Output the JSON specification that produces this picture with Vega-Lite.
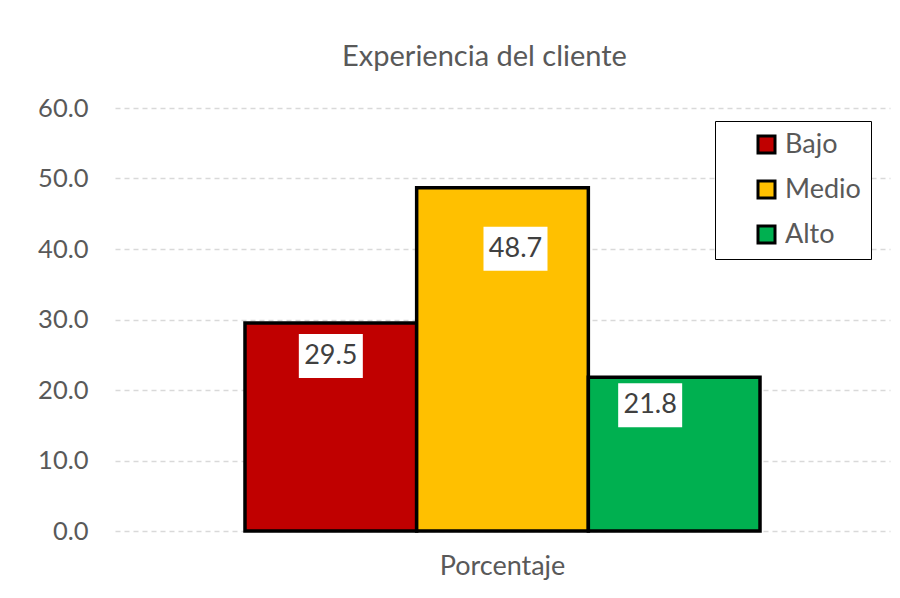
{
  "$schema": "https://vega.github.io/schema/vega-lite/v6.json",
  "width": 775,
  "height": 423,
  "autosize": {"type": "none"},
  "padding": {"left": 115, "top": 108, "right": 10, "bottom": 67},
  "background": "white",
  "config": {"view": {"stroke": null}, "font": "Lato"},
  "title": {"text": "Experiencia del cliente", "fontSize": 29, "fontWeight": "normal", "color": "#595959", "anchor": "middle", "dx": -18, "offset": 24},
  "data": {"values": [
    {"grupo": "Porcentaje", "nivel": "Bajo", "valor": 29.5},
    {"grupo": "Porcentaje", "nivel": "Medio", "valor": 48.7},
    {"grupo": "Porcentaje", "nivel": "Alto", "valor": 21.8}
  ]},
  "encoding": {
    "x": {"field": "grupo", "type": "nominal", "scale": {"paddingInner": 0, "paddingOuter": 0.2524},
      "axis": {"title": null, "domain": false, "ticks": false, "labelAngle": 0, "labelFontSize": 27, "labelColor": "#595959", "labelPadding": 22}},
    "xOffset": {"field": "nivel", "type": "nominal", "sort": ["Bajo", "Medio", "Alto"], "scale": {"paddingInner": 0, "paddingOuter": 0}},
    "y": {"field": "valor", "type": "quantitative", "scale": {"domain": [0, 60]},
      "axis": {"title": null, "values": [0, 10, 20, 30, 40, 50, 60], "format": ".1f", "domain": false, "ticks": false, "labelFontSize": 25.5, "labelColor": "#595959", "labelPadding": 27, "gridColor": "#d9d9d9", "gridDash": [5, 4], "gridWidth": 1.3}}
  },
  "layer": [
    {
      "mark": {"type": "bar", "stroke": "black", "strokeWidth": 3.5, "strokeJoin": "miter"},
      "encoding": {
        "fill": {"field": "nivel", "type": "nominal",
          "scale": {"domain": ["Bajo", "Medio", "Alto"], "range": ["#C00000", "#FFC000", "#00B050"]},
          "legend": {"title": "\u00a0", "titleOrient": "left", "titleFontSize": 10, "titlePadding": 28, "orient": "none", "legendX": 600, "legendY": 13, "strokeColor": "black", "fillColor": "white", "padding": 10,
            "symbolType": "square", "symbolSize": 289, "symbolStrokeColor": "black", "symbolStrokeWidth": 3, "symbolOpacity": 1,
            "labelBaseline": "middle",
            "labelFontSize": 27, "labelColor": "#595959", "rowPadding": 16, "labelOffset": 5}}
      }
    },
    {
      "mark": {"type": "point", "size": 4096, "filled": true, "fill": "white", "strokeWidth": 0, "opacity": 1,
        "shape": {"expr": "datum.nivel === 'Medio' ? 'M-0.594,1.219L1.406,1.219L1.406,2.594L-0.594,2.594Z' : datum.nivel === 'Alto' ? 'M-1.75,0.188L0.25,0.188L0.25,1.563L-1.75,1.563Z' : 'M-1,0.344L1,0.344L1,1.719L-1,1.719Z'"}},
      "encoding": {}
    },
    {
      "mark": {"type": "text", "fontSize": 27, "color": "#404040", "baseline": "middle",
        "dx": {"expr": "datum.nivel === 'Medio' ? 13 : datum.nivel === 'Alto' ? -24 : 0"},
        "dy": {"expr": "datum.nivel === 'Medio' ? 61 : datum.nivel === 'Alto' ? 28 : 33"}},
      "encoding": {"text": {"field": "valor", "type": "quantitative", "format": ".1f"}}
    }
  ]
}
